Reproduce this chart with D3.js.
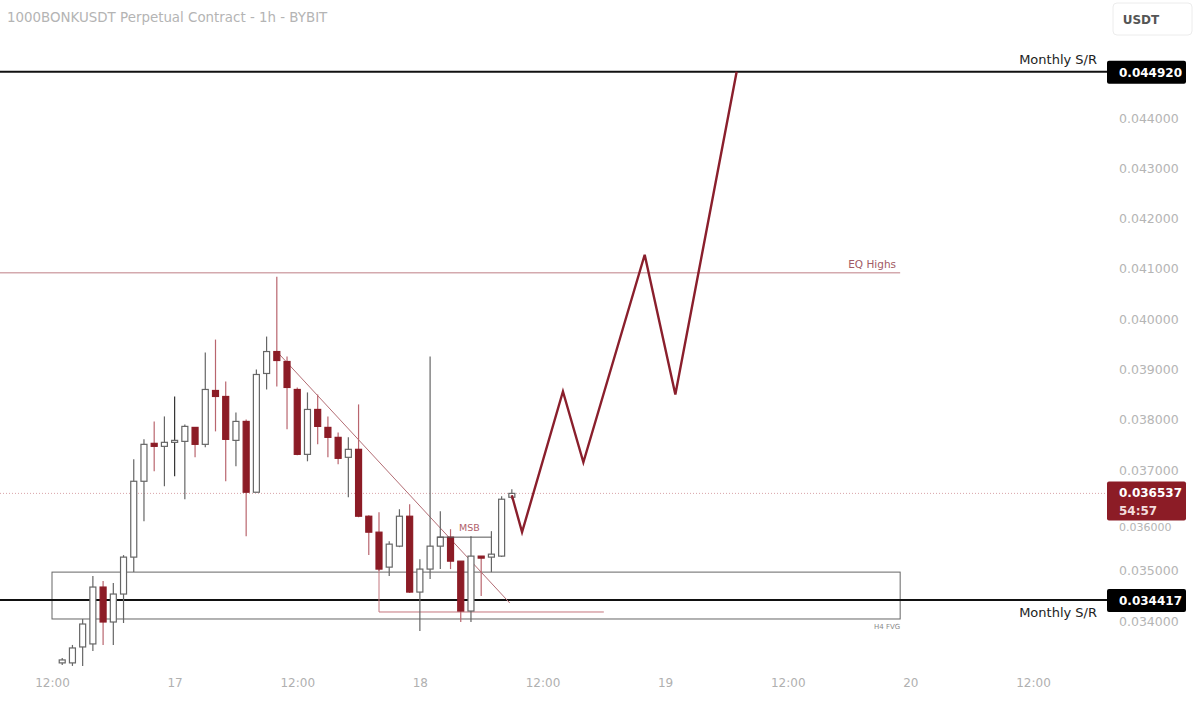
<!DOCTYPE html>
<html><head><meta charset="utf-8">
<script src="https://cdn.jsdelivr.net/npm/d3@7"></script>
<style>body{margin:0;background:#fff}svg{display:block}</style>
</head><body>
<svg id="c" width="1200" height="702"></svg>
<script>
// ---------- DATA ----------
const title = "1000BONKUSDT Perpetual Contract - 1h - BYBIT";
const startTime = new Date(2023, 10, 16, 12, 0); // 16th 12:00
const candleHours = [1,2,3,4,5,6,7,8,9,10,11,12,13,14,15,16,17,18,19,20,21,22,23,24,25,26,27,28,29,30,31,32,33,34,35,36,37,38,39,40,41,42,43,44,45];
const opens  = [0.033167,0.033167,0.033484,0.033544,0.034675,0.033980,0.034536,0.035270,0.036778,0.037532,0.037472,0.037571,0.037571,0.037849,0.037512,0.038583,0.038464,0.037591,0.037968,0.036560,0.038921,0.039357,0.039159,0.038603,0.037313,0.038206,0.037849,0.037651,0.037254,0.037413,0.036083,0.035766,0.035071,0.035488,0.036083,0.034575,0.035032,0.035488,0.035667,0.035190,0.034198,0.035290,0.035270,0.035290,0.036460];
const highs  = [0.033266,0.033524,0.034040,0.034893,0.034794,0.034754,0.035310,0.037214,0.037611,0.037968,0.038067,0.038464,0.037909,0.037849,0.039337,0.039595,0.038762,0.038147,0.038008,0.039000,0.039655,0.040845,0.039258,0.038643,0.038544,0.038504,0.038067,0.037750,0.037651,0.038306,0.036103,0.036163,0.035587,0.036222,0.036321,0.035230,0.039258,0.036183,0.035825,0.035190,0.035687,0.035290,0.035786,0.036480,0.036619];
const lows   = [0.033127,0.033107,0.033107,0.033405,0.033524,0.033524,0.033960,0.034972,0.035984,0.036976,0.036679,0.036877,0.036421,0.037254,0.037452,0.037770,0.036778,0.037075,0.035687,0.036560,0.038603,0.038663,0.037810,0.037294,0.037175,0.037512,0.037254,0.037115,0.036460,0.036063,0.035310,0.034992,0.034893,0.035468,0.034556,0.033802,0.034833,0.035032,0.035032,0.033980,0.033980,0.034496,0.034972,0.035270,0.036421];
const closes = [0.033226,0.033464,0.033940,0.034675,0.033980,0.034536,0.035270,0.036778,0.037512,0.037472,0.037552,0.037591,0.037869,0.037512,0.038603,0.038464,0.037611,0.037968,0.036560,0.038901,0.039357,0.039179,0.038643,0.037313,0.038206,0.037869,0.037651,0.037234,0.037413,0.036083,0.035766,0.035032,0.035528,0.036083,0.034575,0.035032,0.035488,0.035667,0.035190,0.034198,0.035290,0.035250,0.035329,0.036421,0.036537];

const projHours  = [45, 46, 50, 52, 58, 61, 67];
const projPrices = [0.036500, 0.035766, 0.038563, 0.037155, 0.041282, 0.038504, 0.044920];

const monthlyLevels = [0.044920, 0.034417];
const eqHigh = 0.040925;
const lastPrice = 0.036537;
const countdown = "54:57";
const fvgHours = [0, 83];
const fvgPrices = [0.034040, 0.034972];
const trendHours = [22, 44.8];
const trendPrices = [0.039357, 0.034357];
const lowLineHours = [32, 32, 54];
const lowLinePrices = [0.035032, 0.034179, 0.034179];
const msbHours = [37.7, 43];
const msbPrice = 0.035667;
const yTicks = [0.034,0.035,0.036,0.037,0.038,0.039,0.040,0.041,0.042,0.043,0.044];
const xTickHours = [0,12,24,36,48,60,72,84,96];

// ---------- SCALES ----------
const svg = d3.select("#c");
const hourToDate = h => new Date(startTime.getTime() + h * 3600000);
const x = d3.scaleTime().domain([hourToDate(0), hourToDate(96)]).range([52, 1033]);
const y = d3.scaleLinear().domain([0.034, 0.044]).range([621, 118]);
const xh = h => x(hourToDate(h));

const RED = "#8c1c26";
const font = "DejaVu Sans, sans-serif";

// title
svg.append("text").attr("x", 7).attr("y", 22).attr("font-family", font).attr("font-size", 13.4)
  .attr("fill", "#b4b4b4").text(title);

// USDT box
svg.append("rect").attr("x", 1113).attr("y", 3).attr("width", 79).attr("height", 32).attr("rx", 4)
  .attr("fill", "#fff").attr("stroke", "#ececec");
svg.append("text").attr("x", 1141).attr("y", 24).attr("text-anchor", "middle").attr("font-family", font)
  .attr("font-size", 12).attr("font-weight", "bold").attr("fill", "#555").text("USDT");

// y axis labels (0.036000 is mostly hidden behind the last-price tag, clipped to its visible sliver)
svg.append("clipPath").attr("id", "yclip").append("rect").attr("x", 1100).attr("y", 0).attr("width", 100).attr("height", 702);
const yAxis = d3.axisRight(y).tickValues(yTicks).tickFormat(d3.format(".6f")).tickSize(0).tickPadding(0);
const gy = svg.append("g").attr("transform", "translate(1119,0)").call(yAxis);
gy.select(".domain").remove();
gy.selectAll("text").attr("font-family", font).attr("font-size", 12.5).attr("fill", "#b5b5b5");
gy.selectAll(".tick").filter(d => Math.abs(d - 0.036) < 1e-9).select("text")
  .attr("font-size", 11).attr("dy", "0.9em");

// x axis labels
const xAxis = d3.axisBottom(x).tickValues(xTickHours.map(hourToDate))
  .tickFormat(d => d.getHours() === 0 ? String(d.getDate()) : "12:00").tickSize(0).tickPadding(0);
const gx = svg.append("g").attr("transform", "translate(0,678)").call(xAxis);
gx.select(".domain").remove();
gx.selectAll("text").attr("font-family", font).attr("font-size", 12).attr("fill", "#b0b0b0");

// EQ highs
svg.append("line").attr("x1", 0).attr("x2", xh(83)).attr("y1", y(eqHigh)).attr("y2", y(eqHigh))
  .attr("stroke", "#d4a9ae").attr("stroke-width", 1.5);
svg.append("text").attr("x", xh(82.6)).attr("y", y(eqHigh) - 5).attr("text-anchor", "end")
  .attr("font-family", font).attr("font-size", 10.5).attr("fill", "#a15a64").text("EQ Highs");

// last price dotted line
svg.append("line").attr("x1", 0).attr("x2", 1106).attr("y1", y(lastPrice)).attr("y2", y(lastPrice))
  .attr("stroke", "#d9a3a8").attr("stroke-width", 1).attr("stroke-dasharray", "1,2");

// FVG box
svg.append("rect").attr("x", xh(fvgHours[0])).attr("y", y(fvgPrices[1]))
  .attr("width", xh(fvgHours[1]) - xh(fvgHours[0])).attr("height", y(fvgPrices[0]) - y(fvgPrices[1]))
  .attr("fill", "none").attr("stroke", "#666").attr("stroke-width", 1);
svg.append("text").attr("x", xh(fvgHours[1])).attr("y", y(fvgPrices[0]) + 10).attr("text-anchor", "end")
  .attr("font-family", font).attr("font-size", 7).attr("fill", "#888").text("H4 FVG");

// Monthly S/R lines
monthlyLevels.forEach((lv, i) => {
  svg.append("line").attr("x1", 0).attr("x2", 1107).attr("y1", y(lv)).attr("y2", y(lv))
    .attr("stroke", "#111").attr("stroke-width", 2);
  svg.append("text").attr("x", 1097).attr("y", i === 0 ? y(lv) - 8 : y(lv) + 17).attr("text-anchor", "end")
    .attr("font-family", font).attr("font-size", 13).attr("fill", "#222").text("Monthly S/R");
});

// low line (red)
const lineGen = d3.line().x(d => xh(d[0])).y(d => y(d[1]));
svg.append("path").attr("d", lineGen(lowLineHours.map((h, i) => [h, lowLinePrices[i]])))
  .attr("fill", "none").attr("stroke", "#c4767e").attr("stroke-width", 1);

// trendline
svg.append("path").attr("d", lineGen(trendHours.map((h, i) => [h, trendPrices[i]])))
  .attr("fill", "none").attr("stroke", "#b36d74").attr("stroke-width", 1);

// candles
const candles = candleHours.map((h, i) => ({h, o: opens[i], hi: highs[i], lo: lows[i], c: closes[i]}));
const bw = 6;
const cg = svg.append("g");
candles.forEach(d => {
  const up = d.c >= d.o;
  const wickCol = up ? (d.h === 12 ? "#333" : "#666") : "#b9656e";
  cg.append("line").attr("x1", xh(d.h)).attr("x2", xh(d.h)).attr("y1", y(d.hi)).attr("y2", y(d.lo))
    .attr("stroke", wickCol).attr("stroke-width", 1.2);
  const top = y(Math.max(d.o, d.c)), bot = y(Math.min(d.o, d.c));
  cg.append("rect").attr("x", xh(d.h) - bw / 2).attr("y", top).attr("width", bw).attr("height", Math.max(bot - top, 2))
    .attr("fill", up ? "#fff" : RED).attr("stroke", up ? "#666" : RED).attr("stroke-width", 1.2);
});

// MSB
svg.append("line").attr("x1", xh(msbHours[0])).attr("x2", xh(msbHours[1])).attr("y1", y(msbPrice)).attr("y2", y(msbPrice))
  .attr("stroke", "#555").attr("stroke-width", 1);
svg.append("text").attr("x", (xh(msbHours[0]) + xh(msbHours[1])) / 2 + 5).attr("y", y(msbPrice) - 6).attr("text-anchor", "middle")
  .attr("font-family", font).attr("font-size", 9.5).attr("fill", "#b0606a").text("MSB");

// projection path
svg.append("path").attr("d", lineGen(projHours.map((h, i) => [h, projPrices[i]])))
  .attr("fill", "none").attr("stroke", "#8a1f2c").attr("stroke-width", 2.4).attr("stroke-linejoin", "miter");

// price label boxes
monthlyLevels.forEach(lv => {
  svg.append("rect").attr("x", 1107).attr("y", y(lv) - 11).attr("width", 79).attr("height", 23).attr("rx", 2).attr("fill", "#000");
  svg.append("text").attr("x", 1119).attr("y", y(lv) + 5).attr("font-family", font).attr("font-size", 12)
    .attr("font-weight", "bold").attr("fill", "#fff").text(d3.format(".6f")(lv));
});
svg.append("rect").attr("x", 1107).attr("y", y(lastPrice) - 12).attr("width", 79).attr("height", 39).attr("rx", 2).attr("fill", RED);
svg.append("text").attr("x", 1119).attr("y", y(lastPrice) + 4).attr("font-family", font).attr("font-size", 12)
  .attr("font-weight", "bold").attr("fill", "#fff").text(d3.format(".6f")(lastPrice));
svg.append("text").attr("x", 1119).attr("y", y(lastPrice) + 22).attr("font-family", font).attr("font-size", 12)
  .attr("font-weight", "bold").attr("fill", "#f3dcdc").text(countdown);
</script>
</body></html>
